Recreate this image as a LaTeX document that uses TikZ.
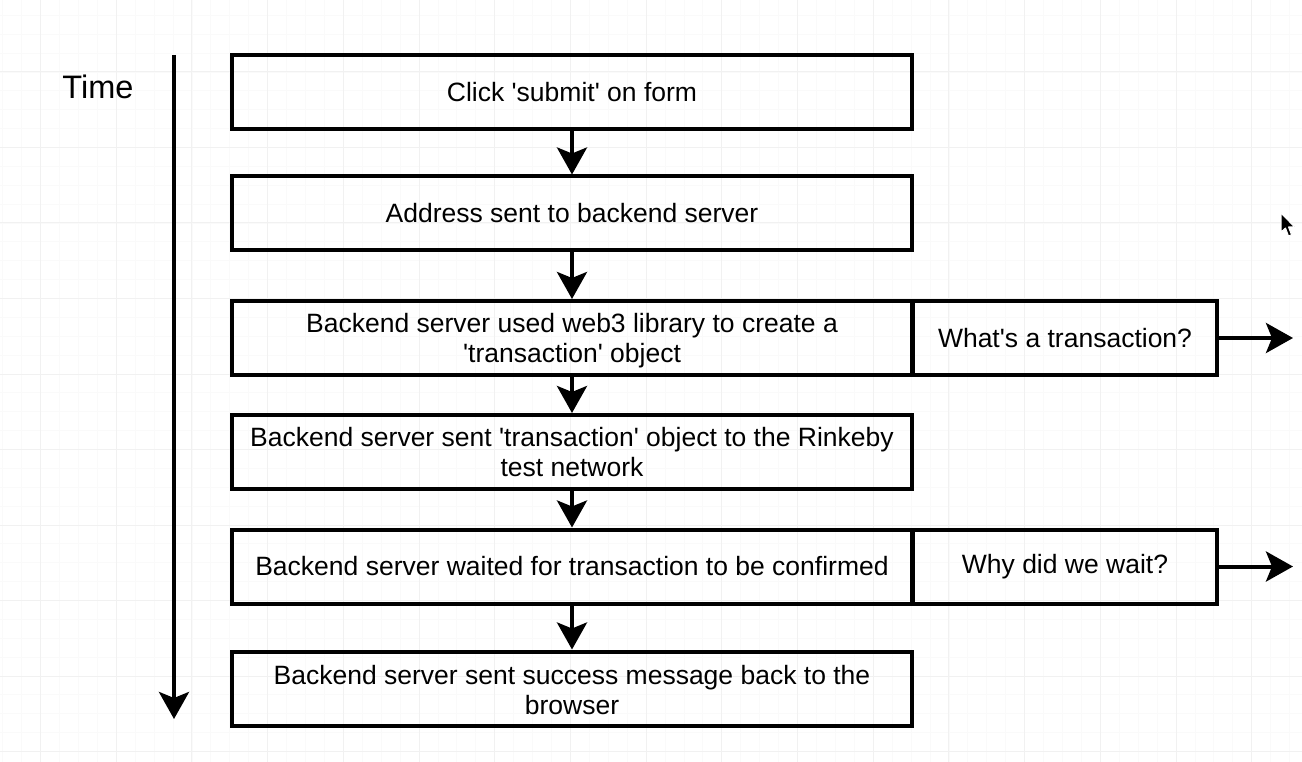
\documentclass[tikz,border=0pt]{standalone}
\usepackage{fontspec}
\setmainfont{Liberation Sans}[Ligatures=TeXOff]
\usetikzlibrary{arrows.meta}
\tikzset{
  gridminor/.style={draw=gray!4, line width=0.8pt},
  gridmajor/.style={draw=gray!11, line width=1pt},
  box/.style={draw, line width=4pt, minimum width=680pt, minimum height=74pt, align=center,
    inner sep=0pt, font=\fontsize{26.5}{30}\selectfont},
  sidebox/.style={box, minimum width=304pt},
  arr/.style={line width=4pt, -{Stealth[length=27pt,width=30pt,inset=6pt]}},
}
\begin{document}
\begin{tikzpicture}[x=1pt,y=-1pt]
\fill[white] (0,0) rectangle (1302,762);
\path[use as bounding box] (0,0) rectangle (1302,762);
% grid
\foreach \i in {-4,...,70} {
  \draw[gridminor] ({40.5+18.925*\i},0) -- ({40.5+18.925*\i},762);
}
\foreach \i in {-4,...,40} {
  \draw[gridminor] (0,{72+18.875*\i}) -- (1302,{72+18.875*\i});
}
\foreach \i in {0,...,17} {
  \draw[gridmajor] ({40.5+75.7*\i},0) -- ({40.5+75.7*\i},762);
}
\foreach \i in {-1,...,10} {
  \draw[gridmajor] (0,{72+75.5*\i}) -- (1302,{72+75.5*\i});
}
% time axis
\node[font=\fontsize{32.5}{36}\selectfont] (time) at (98,87) {Time};
\coordinate (t0) at (174,55);
\coordinate (t1) at (174,719);
\draw[arr] (t0) -- (t1);
% boxes
\node[box] (b1) at (572,92.5) {Click 'submit' on form};
\node[box] (b2) at (572,213.5) {Address sent to backend server};
\node[box] (b3) at (572,338) {\rule{0pt}{24pt}Backend server used web3 library to create a\\'transaction' object};
\node[box] (b4) at (572,452) {Backend server sent 'transaction' object to the Rinkeby\\test network};
\node[box] (b5) at (572,566.5) {Backend server waited for transaction to be confirmed};
\node[box] (b6) at (572,688.5) {\rule{0pt}{22pt}Backend server sent success message back to the\\browser};
\node[sidebox] (s3) at (1065,338) {What's a transaction?};
\node[sidebox] (s5) at (1065,566.5) {Why did we wait?};
% arrows
\draw[arr] (b1) -- (b2);
\draw[arr] (b2) -- (b3);
\draw[arr] (b3) -- (b4);
\draw[arr] (b4) -- (b5);
\draw[arr] (b5) -- (b6);
\coordinate (e3) at (1293,338);
\coordinate (e5) at (1293,566.5);
\draw[arr] (s3.east) -- (e3);
\draw[arr] (s5.east) -- (e5);
% mouse cursor
\filldraw[fill=black, draw=white, line width=1pt, line join=round]
  (1281,213) -- (1281,232) -- (1285.5,228) -- (1288.5,236) -- (1291.5,234.8) -- (1288.5,227) -- (1294.5,227) -- cycle;
\end{tikzpicture}
\end{document}
